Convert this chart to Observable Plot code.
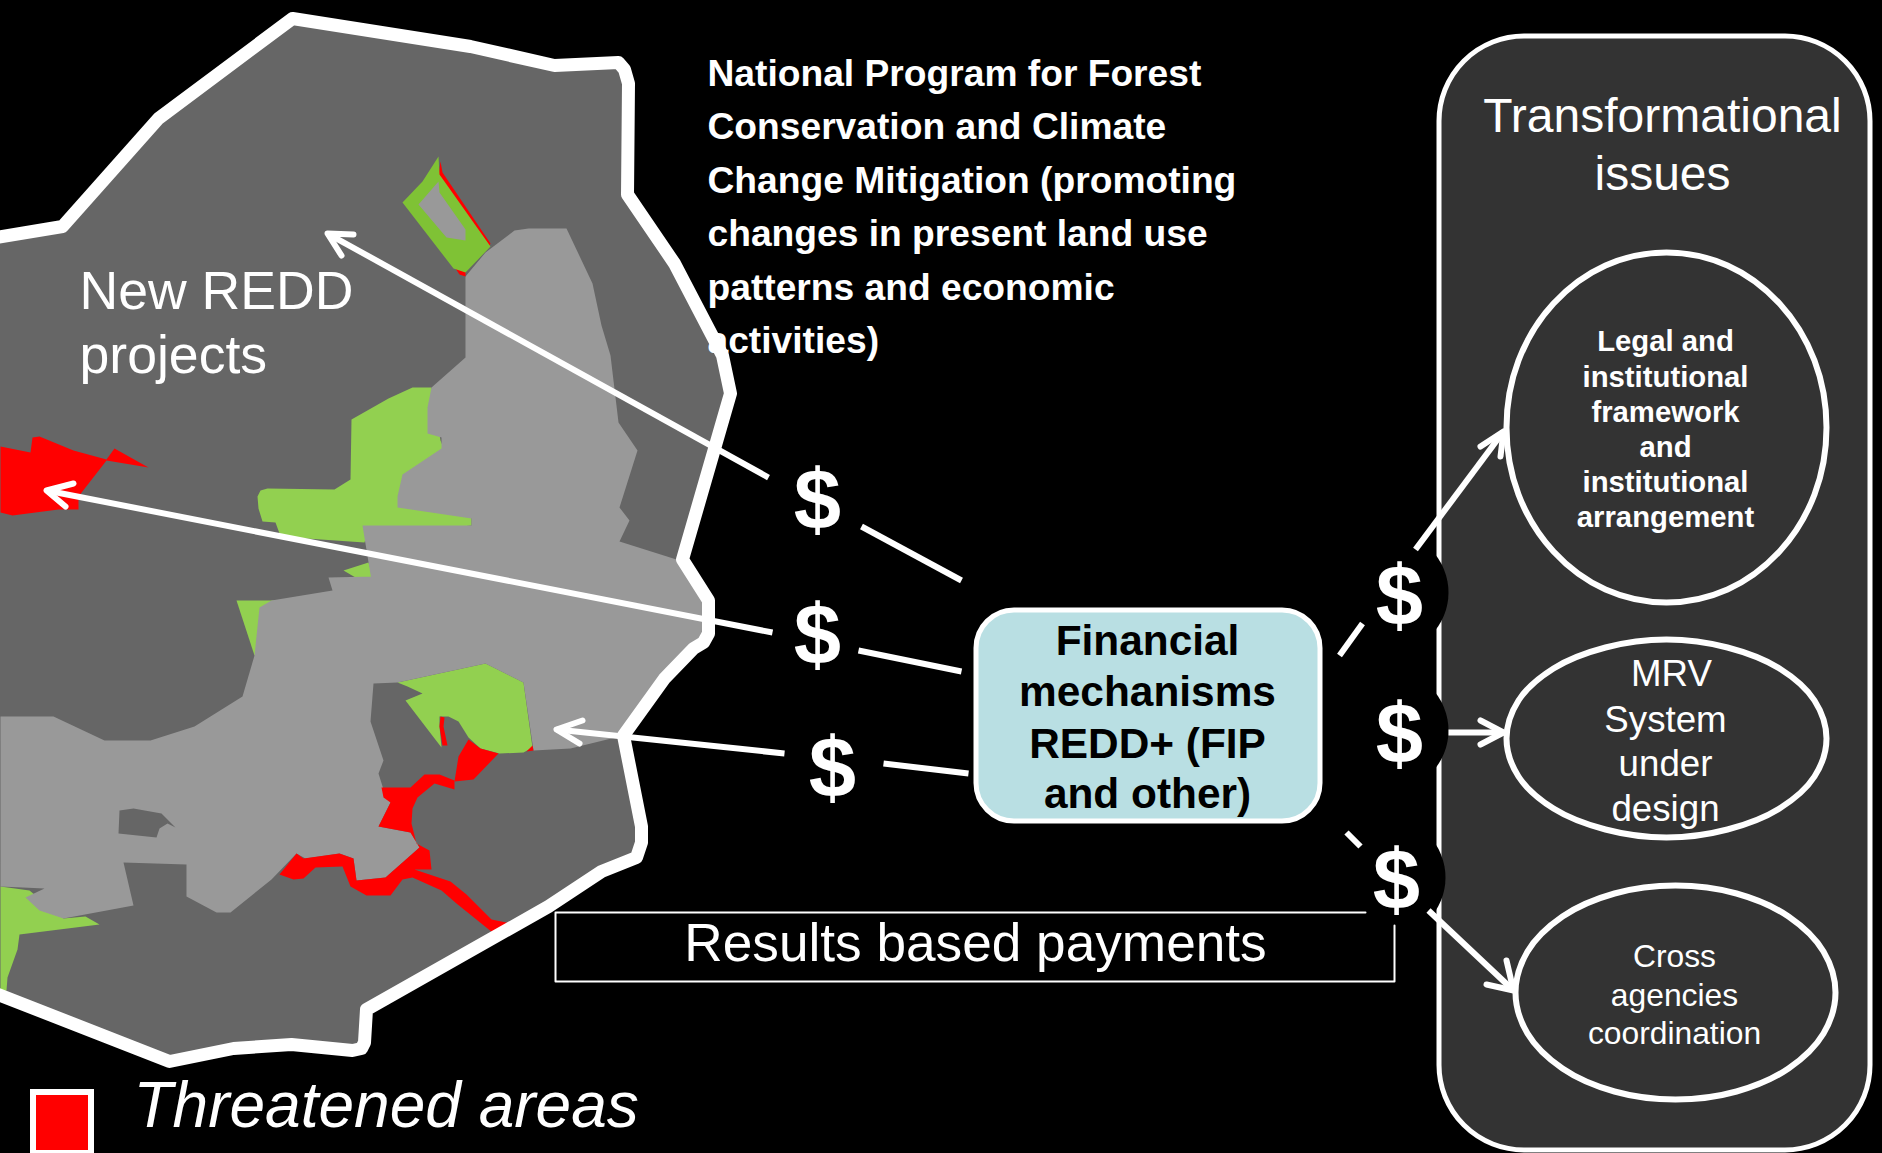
<!DOCTYPE html>
<html>
<head>
<meta charset="utf-8">
<script src="https://cdn.jsdelivr.net/npm/d3@7"></script>
<script src="https://cdn.jsdelivr.net/npm/@observablehq/plot@0.6"></script>
<style>html,body{margin:0;padding:0;background:#000}svg{display:block}</style>
</head>
<body>
<div id="chart"></div>
<script>
const mapOutline = [[-10,238],[62,226],[158,118],[292,18],[470,46],[554,65],[618,62],[624,69],[628,83],[627,194],[674,263],[722,355],[730,393],[682,559],[708,600],[708,633],[703,642],[693,648],[664,678],[623,735],[641,826],[641,842],[636,857],[601,871],[548,906],[366,1009],[364,1042],[361,1048],[352,1050],[291,1044],[233,1048],[169,1061],[-10,991]];
const managedLand = [[465,276],[485,252],[514,230],[528,228],[566,228],[592,283],[601,325],[610,355],[618,422],[637,450],[619,507],[629,520],[619,541],[676,559],[695,590],[708,600],[708,633],[693,648],[664,678],[623,735],[570,748],[533,750],[523,682],[485,663],[397,682],[373,683],[370,721],[383,760],[378,773],[383,789],[390,802],[378,826],[410,832],[419,847],[385,877],[356,880],[353,858],[339,853],[305,858],[296,853],[271,879],[230,912],[216,912],[186,896],[186,864],[123,862],[133,905],[63,918],[39,910],[25,897],[44,888],[0,886],[0,716],[53,716],[104,740],[150,740],[194,726],[242,696],[254,655],[259,607],[271,600],[332,590],[328,577],[373,576],[371,580],[362,525],[471,525],[471,518],[397,507],[397,496],[402,474],[441,448],[441,437],[427,433],[427,407],[431,387],[465,357]];
const enclave = [[119,810],[133,808],[161,813],[175,827],[167,823],[159,828],[156,837],[118,833]];
const greenAreas = [
  [[431,387],[412,387],[388,398],[351,419],[350,479],[334,489],[267,488],[260,490],[257,496],[258,508],[262,521],[275,522],[279,533],[291,537],[364,542],[366,535],[471,525],[471,518],[440,440]],
  [[343,570],[368,562],[373,578],[355,577]],
  [[236,600],[275,600],[260,650],[254,655]],
  [[485,663],[523,682],[532,747],[523,752],[499,753],[480,748],[468,737],[458,721],[448,716],[439,716],[439,726],[441,747],[431,734],[405,700],[422,693],[407,686],[397,682]],
  [[0,886],[29,890],[63,918],[85,916],[99,924],[19,934],[17,949],[7,977],[6,990],[0,992]]
];
const oliveArea = [[438,156],[439,174],[490,246],[465,272],[453,268],[402,202],[422,181]];
const oliveHole = [[438,181],[439,192],[465,229],[465,240],[446,237],[418,204]];
const redAreas = [
  [[440,161],[442,172],[490,243],[488,247],[438,175]],
  [[455,268],[465,270],[465,276],[459,274]],
  [[0,446],[30,452],[32,437],[39,436],[73,450],[106,459],[114,448],[148,467],[106,460],[78,496],[78,509],[58,509],[12,515],[0,512]],
  [[381,787],[410,787],[424,774],[439,774],[454,780],[454,789],[434,783],[417,797],[412,808],[411,823],[416,843],[429,850],[431,869],[414,869],[450,881],[466,894],[491,919],[511,923],[492,932],[456,903],[441,890],[412,877],[402,879],[390,895],[366,895],[350,886],[342,866],[315,867],[303,878],[293,879],[279,874],[296,853],[303,858],[339,853],[353,858],[356,880],[385,877],[419,847],[410,832],[378,826],[390,802],[383,797]],
  [[468,739],[480,748],[498,753],[473,779],[454,781],[458,756]],
  [[440,716],[444,717],[443,726],[447,745],[442,745],[439,726]],
  [[526,751],[532,745],[533,750]]
];
const connectors = [
  [[768,477],[327,233]], [[772,632],[46,490]], [[784,753],[556,729]],
  [[861,526],[961,580]], [[858,650],[961,671]], [[883,763],[968,773]],
  [[1362,623],[1339,655]], [[1346,832],[1360,846]],
  [[1415,549],[1503,431]], [[1448,732],[1503,732]], [[1428,910],[1513,990]]
];
const arrowHeads = [
  [[353,234],[327,233],[341,255]], [[73,483],[46,490],[65,506]], [[582,720],[556,729],[579,743]],
  [[1480,446],[1503,431],[1500,456]], [[1480,720],[1503,732],[1480,744]], [[1486,984],[1513,990],[1506,960]]
];
const paymentsFrame = [[1365,912],[555,912],[555,981],[1394,981],[1394,925]];
const issuePanel = [1439,36,1870,1150];
const mechanismBox = [976,610,1320,821];
const legendSwatch = [33,1092,91,1153];
const issueEllipses = [
  [[1826,427],[1814,494],[1779,551],[1727,589],[1666,602],[1605,589],[1553,551],[1518,494],[1506,427],[1518,360],[1553,303],[1605,265],[1666,252],[1727,265],[1779,303],[1814,360]],
  [[1826,738],[1814,776],[1779,808],[1727,829],[1666,837],[1605,829],[1553,808],[1518,776],[1506,738],[1518,700],[1553,668],[1605,647],[1666,639],[1727,647],[1779,668],[1814,700]],
  [[1835,992],[1823,1033],[1788,1068],[1736,1091],[1675,1099],[1614,1091],[1562,1068],[1527,1033],[1515,992],[1527,951],[1562,916],[1614,893],[1675,885],[1736,893],[1788,916],[1823,951]]
];
const moneyBacks = [[1387,592],[1387,730],[1384,877]];
const moneyPoints = [[817,501],[817,636],[832,769],[1399,597],[1399,735],[1396,881]];
const programLines = ["National Program for Forest","Conservation and Climate","Change Mitigation (promoting","changes in present land use","patterns and economic","activities)"];
const programY = [74,127,181,234,288,341];
const reddLines = ["New REDD","projects"];
const reddY = [291,355];
const mechanismLines = ["Financial","mechanisms","REDD+ (FIP","and other)"];
const mechanismY = [641,692,744,794];
const issueTitle = ["Transformational","issues"];
const issueTitleY = [116,174];
const legalLines = ["Legal and","institutional","framework","and","institutional","arrangement"];
const legalY = [341,377,412,447,482,517];
const mrvLines = ["MRV","System","under","design"];
const mrvX = [1671,1665,1665,1665];
const mrvY = [674,720,764,809];
const crossLines = ["Cross","agencies","coordination"];
const crossY = [956,995,1033];

const X = d => d[0], Y = d => d[1];
const FONT = "Liberation Sans, Arial, sans-serif";
const poly = (pts, fill) => Plot.line(pts, {x: X, y: Y, fill, stroke: "none"});
const stroke = (pts, w, extra = {}) => Plot.line(pts, {x: X, y: Y, stroke: "white", strokeWidth: w, ...extra});
const box = (b, o) => Plot.rect([b], {x1: d => d[0], y1: d => d[1], x2: d => d[2], y2: d => d[3], ...o});
const label = (lines, xs, ys, size, o = {}) => Plot.text(lines, {
  x: (d, i) => Array.isArray(xs) ? xs[i] : xs,
  y: (d, i) => ys[i],
  text: d => d,
  fontSize: size,
  fontFamily: FONT,
  fill: "white",
  lineAnchor: "middle",
  ...o
});

const chart = Plot.plot({
  width: 1882,
  height: 1153,
  margin: 0,
  style: {background: "#000", color: "#fff", fontFamily: FONT},
  x: {domain: [0, 1882], range: [0, 1882], axis: null},
  y: {domain: [0, 1153], range: [0, 1153], axis: null},
  marks: [
    poly(mapOutline, "#666666"),
    ...greenAreas.map(a => poly(a, "#92D050")),
    poly(managedLand, "#999999"),
    poly(enclave, "#666666"),
    ...redAreas.map(a => poly(a, "#FF0000")),
    poly(oliveArea, "#7FC235"),
    poly(oliveHole, "#999999"),
    stroke(mapOutline, 13),
    label(reddLines, 79, reddY, 53.6, {textAnchor: "start"}),
    label(programLines, 707, programY, 37.2, {textAnchor: "start", fontWeight: "bold"}),
    box(issuePanel, {fill: "#333333", stroke: "white", strokeWidth: 5, rx: 85}),
    ...issueEllipses.map(e => stroke(e, 6, {curve: "catmull-rom-closed"})),
    Plot.dot(moneyBacks, {x: X, y: Y, r: 61, fill: "black", stroke: "none"}),
    stroke(paymentsFrame, 2),
    ...connectors.map(c => stroke(c, 6, {strokeLinecap: "butt"})),
    ...arrowHeads.map(h => stroke(h, 6, {strokeLinecap: "round"})),
    box(mechanismBox, {fill: "#B9DFE3", stroke: "white", strokeWidth: 5, rx: 38}),
    box(legendSwatch, {fill: "#FF0000", stroke: "white", strokeWidth: 6}),
    Plot.text(moneyPoints, {x: X, y: Y, text: () => "$", fontSize: 85, fontFamily: FONT, fontWeight: "bold", fill: "white", lineAnchor: "middle"}),
    label(mechanismLines, 1147, mechanismY, 42.4, {fontWeight: "bold", fill: "black"}),
    label(issueTitle, 1662, issueTitleY, 48),
    label(legalLines, 1665, legalY, 29.3, {fontWeight: "bold"}),
    label(mrvLines, mrvX, mrvY, 36.7),
    label(crossLines, 1674, crossY, 31.8),
    label(["Results based payments"], 975, [943], 53.2),
    label(["Threatened areas"], 133, [1106], 64, {textAnchor: "start", fontStyle: "italic"})
  ]
});
document.getElementById("chart").append(chart);
</script>
</body>
</html>
